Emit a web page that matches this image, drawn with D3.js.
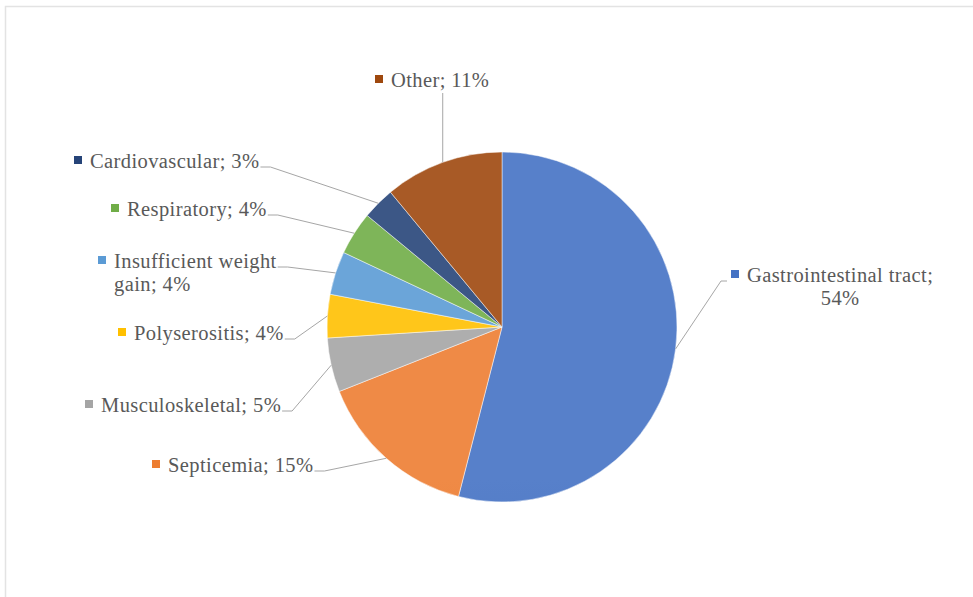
<!DOCTYPE html>
<html><head><meta charset="utf-8">
<script src="https://cdn.jsdelivr.net/npm/d3@7"></script>
<style>
html,body{margin:0;padding:0;background:#fff;}
svg{display:block;}
</style></head>
<body>
<svg id="chart" width="973" height="597"></svg>
<script>
// ---- data ----
const categories = ["Gastrointestinal tract", "Septicemia", "Musculoskeletal", "Polyserositis",
  "Insufficient weight gain", "Respiratory", "Cardiovascular", "Other"];
const values = [54, 15, 5, 4, 4, 4, 3, 11];
const colors = ["#4472C4", "#ED7D31", "#A5A5A5", "#FFC000", "#5B9BD5", "#70AD47", "#264478", "#9E480E"];
const labelLines = [
  ["Gastrointestinal tract;", "54%"],
  ["Septicemia; 15%"],
  ["Musculoskeletal; 5%"],
  ["Polyserositis; 4%"],
  ["Insufficient weight", "gain; 4%"],
  ["Respiratory; 4%"],
  ["Cardiovascular; 3%"],
  ["Other; 11%"]
];
// ---- layout (positions of label boxes) ----
const labelLayout = [
  {x: 747, y: 282, align: "center", side: "left"},
  {x: 168, y: 472, align: "left", side: "right"},
  {x: 101, y: 412, align: "left", side: "right"},
  {x: 134, y: 340, align: "left", side: "right"},
  {x: 114, y: 268, align: "left", side: "right"},
  {x: 127, y: 216, align: "left", side: "right"},
  {x: 90,  y: 168, align: "left", side: "right"},
  {x: 391, y: 87,  align: "left", side: "bottom"}
];
const cx = 502, cy = 327, R = 175;
const fontSize = 20.5, lineH = 23;
const fontFamily = '"Times New Roman","Liberation Serif",serif';

const svg = d3.select("#chart");
svg.append("rect").attr("x", 5.5).attr("y", 6.5).attr("width", 980).attr("height", 600)
  .attr("fill", "#fff").attr("stroke", "#e3e3e3").attr("stroke-width", 1.5);

const defs = svg.append("defs");
colors.forEach((c, i) => {
  const g = defs.append("linearGradient").attr("id", "g" + i)
    .attr("gradientUnits", "userSpaceOnUse")
    .attr("x1", 0).attr("y1", cy - R).attr("x2", 0).attr("y2", cy + R);
  g.append("stop").attr("offset", "0%").attr("stop-color", d3.interpolateRgb(c, "#ffffff")(0.1));
  g.append("stop").attr("offset", "100%").attr("stop-color", d3.interpolateRgb(c, "#000000")(0.06));
});

const pie = d3.pie().sort(null).value(d => d)(values);
const arc = d3.arc().innerRadius(0).outerRadius(R);

const gPie = svg.append("g").attr("transform", `translate(${cx},${cy})`);
gPie.selectAll("path").data(pie).enter().append("path")
  .attr("d", arc)
  .attr("fill", (d, i) => `url(#g${i})`)
  .attr("stroke", "#ffffff").attr("stroke-opacity", 0.6).attr("stroke-width", 0.8);

const gLab = svg.append("g");
pie.forEach((d, i) => {
  const L = labelLayout[i];
  const t = gLab.append("text")
    .style("font-family", fontFamily)
    .style("letter-spacing", "0.4px")
    .attr("font-size", fontSize).attr("fill", "#595959");
  labelLines[i].forEach((ln, k) => {
    t.append("tspan").attr("x", L.x).attr("y", L.y + k * lineH).text(ln);
  });
  const widths = labelLines[i].map((ln, k) => t.selectAll("tspan").nodes()[k].getComputedTextLength());
  const maxW = d3.max(widths);
  if (L.align === "center") {
    t.selectAll("tspan").attr("x", (s, k) => L.x + (maxW - widths[k]) / 2);
  }
  gLab.append("rect").attr("x", L.x - 16).attr("y", L.y - 12).attr("width", 8).attr("height", 8)
    .attr("fill", colors[i]);
  const mid = (d.startAngle + d.endAngle) / 2;
  const px = cx + R * Math.sin(mid), py = cy - R * Math.cos(mid);
  let pts;
  if (L.side === "right") {
    const ex = L.x + widths[0] + 1, ey = L.y - 1;
    pts = [[ex, ey], [ex + 10, ey], [px, py]];
  } else if (L.side === "left") {
    const ex = L.x - 20, ey = L.y - 1;
    pts = [[ex, ey], [ex - 6, ey], [px, py]];
  } else {
    pts = [[px, L.y + 6], [px, py]];
  }
  gLab.append("path").attr("d", d3.line()(pts)).attr("fill", "none")
    .attr("stroke", "#a6a6a6").attr("stroke-width", 1);
});
</script>
</body></html>
